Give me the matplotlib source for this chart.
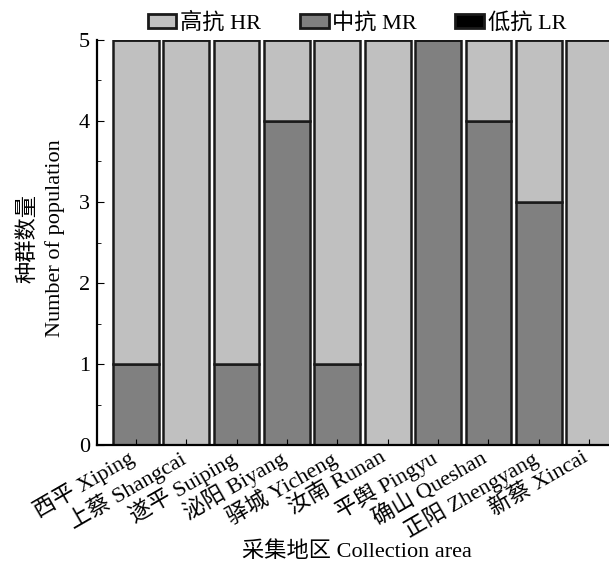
import matplotlib.pyplot as plt
import matplotlib.transforms as mtransforms
from matplotlib.patches import Patch
from matplotlib.ticker import MultipleLocator
import numpy as np

plt.rcParams['font.family'] = ['Liberation Serif', 'Noto Sans CJK SC']

areas = ['西平 Xiping', '上蔡 Shangcai', '遂平 Suiping', '泌阳 Biyang', '驿城 Yicheng',
         '汝南 Runan', '平舆 Pingyu', '确山 Queshan', '正阳 Zhengyang', '新蔡 Xincai']
mr = [1, 0, 1, 4, 1, 0, 5, 4, 3, 0]
hr = [4, 5, 4, 1, 4, 5, 0, 1, 2, 5]
lr = [0, 0, 0, 0, 0, 0, 0, 0, 0, 0]

c_hr, c_mr, c_lr = '#c0c0c0', '#808080', '#000000'

fig = plt.figure(figsize=(6.09, 5.62), dpi=100)
ax = fig.add_axes([0.1593, 0.208, 0.852, 0.721])

x = np.arange(len(areas))
w = 0.91
ax.bar(x, mr, w, color=c_mr, edgecolor='#1a1a1a', linewidth=1.8)
ax.bar(x, hr, w, bottom=mr, color=c_hr, edgecolor='#1a1a1a', linewidth=1.8)
ax.bar(x, lr, w, bottom=np.add(mr, hr), color=c_lr, edgecolor='#1a1a1a', linewidth=1.8)

ax.set_xlim(-0.77, 9.53)
ax.set_ylim(0, 5)
ax.yaxis.set_major_locator(MultipleLocator(1))
ax.yaxis.set_minor_locator(MultipleLocator(0.5))
ax.tick_params(axis='both', which='both', direction='in', labelsize=16)
ax.tick_params(axis='y', which='major', length=5, pad=5)
ax.tick_params(axis='y', which='minor', length=3)
ax.tick_params(axis='x', length=4, pad=1)
ax.set_xticks(x)
ax.set_xticklabels(areas, rotation=30, ha='right', rotation_mode='anchor')
shift = mtransforms.ScaledTranslation(-6 / 72, 0, fig.dpi_scale_trans)
for lab in ax.get_xticklabels():
    lab.set_transform(lab.get_transform() + shift)
for s in ax.spines.values():
    s.set_linewidth(1.6)
ax.spines['top'].set_visible(False)
ax.spines['right'].set_visible(False)

ax.set_ylabel('种群数量\nNumber of population', fontsize=16, va='center', linespacing=1.4)
ax.yaxis.set_label_coords(-0.107, 0.51)
ax.set_xlabel('采集地区 Collection area', fontsize=16, va='center')
ax.xaxis.set_label_coords(0.5, -0.262)

handles = [Patch(facecolor=c_hr, edgecolor='#1a1a1a', linewidth=2, label='高抗 HR'),
           Patch(facecolor=c_mr, edgecolor='#1a1a1a', linewidth=2, label='中抗 MR'),
           Patch(facecolor=c_lr, edgecolor='#1a1a1a', linewidth=2, label='低抗 LR')]
fig.legend(handles=handles, loc='center', bbox_to_anchor=(0.586, 0.959), ncol=3,
           frameon=False, fontsize=16, handlelength=1.3, handleheight=0.6,
           handletextpad=0.15, columnspacing=1.75, borderpad=0)

fig.savefig('out.png', dpi=100)
